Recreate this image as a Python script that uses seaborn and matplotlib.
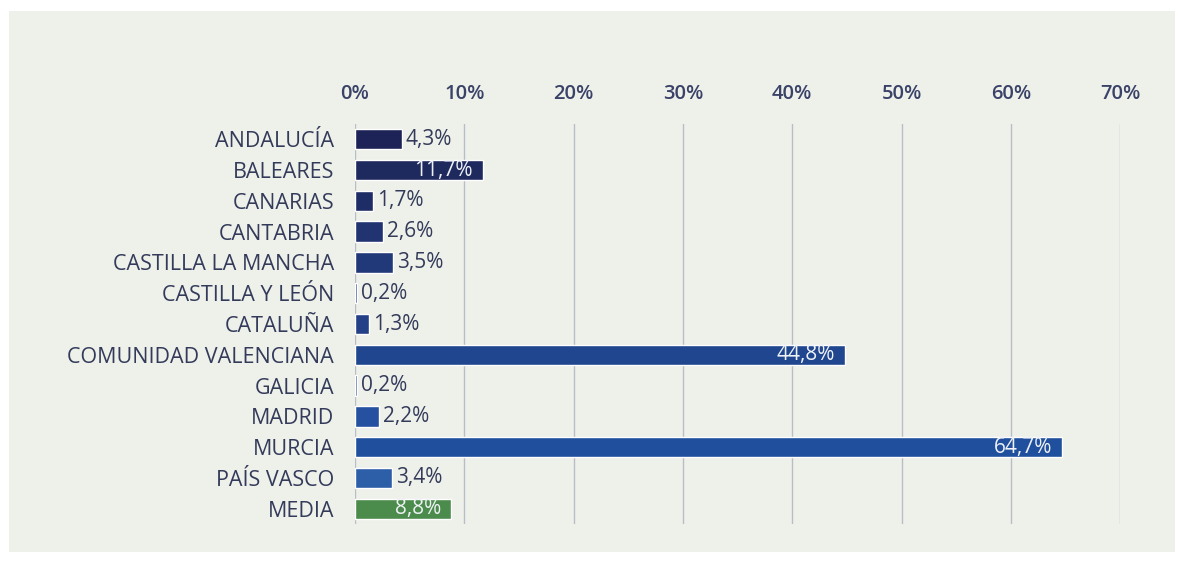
import matplotlib
matplotlib.use("Agg")
import matplotlib.pyplot as plt
import seaborn as sns
import pandas as pd
from matplotlib.patches import Rectangle

regions = ["ANDALUCÍA", "BALEARES", "CANARIAS", "CANTABRIA", "CASTILLA LA MANCHA",
           "CASTILLA Y LEÓN", "CATALUÑA", "COMUNIDAD VALENCIANA", "GALICIA", "MADRID",
           "MURCIA", "PAÍS VASCO", "MEDIA"]
values = [4.3, 11.7, 1.7, 2.6, 3.5, 0.2, 1.3, 44.8, 0.2, 2.2, 64.7, 3.4, 8.8]
labels = ["4,3%", "11,7%", "1,7%", "2,6%", "3,5%", "0,2%", "1,3%", "44,8%", "0,2%",
          "2,2%", "64,7%", "3,4%", "8,8%"]
inside = [False, True, False, False, False, False, False, True, False, False, True, False, True]
colors = ["#1d2356", "#1e295e", "#1f2d67", "#213370", "#223979", "#2a4a8c", "#244086",
          "#1f468f", "#3a5f9e", "#2551a0", "#1f4f9d", "#2d5ea8", "#4b8b4b"]
ticks = [0, 10, 20, 30, 40, 50, 60, 70]
tick_labels = ["0%", "10%", "20%", "30%", "40%", "50%", "60%", "70%"]

df = pd.DataFrame({"region": regions, "value": values})

sns.set_theme(style="white")
plt.rcParams["font.family"] = ["Open Sans", "DejaVu Sans"]

fig = plt.figure(figsize=(11.83, 5.63), dpi=100, facecolor="white")
fig.patches.append(Rectangle((0.008, 0.02), 0.985, 0.96, transform=fig.transFigure,
                             facecolor="#eef0ea", edgecolor="none", zorder=-10))
ax = fig.add_axes([0.300, 0.069, 0.647, 0.711])
ax.set_facecolor("none")

sns.barplot(data=df, x="value", y="region", hue="region", palette=colors,
            saturation=1, dodge=False, legend=False, width=0.66, ax=ax, zorder=3)

ax.set_xlim(0, 70)
ax.set_xticks(ticks)
ax.set_xticklabels(tick_labels)
ax.xaxis.tick_top()
ax.tick_params(axis="x", length=0, pad=14, labelsize=14.5, labelcolor="#3a4268")
for t in ax.get_xticklabels():
    t.set_fontweight("semibold")
ax.tick_params(axis="y", length=0, pad=15, labelsize=15.5, labelcolor="#343b5a")
ax.set_xlabel("")
ax.set_ylabel("")
ax.grid(axis="x", color="#b9bdc6", linewidth=1.0, zorder=0)
for s in ax.spines.values():
    s.set_visible(False)

for i, (v, lab, ins) in enumerate(zip(values, labels, inside)):
    if ins:
        ax.text(v - 0.9, i, lab, ha="right", va="center", color="#eef1f6",
                fontsize=15, zorder=5)
    else:
        ax.text(v + 0.35, i, lab, ha="left", va="center", color="#343b5a",
                fontsize=15, zorder=5)

fig.savefig("out.png", dpi=100, facecolor=fig.get_facecolor())
